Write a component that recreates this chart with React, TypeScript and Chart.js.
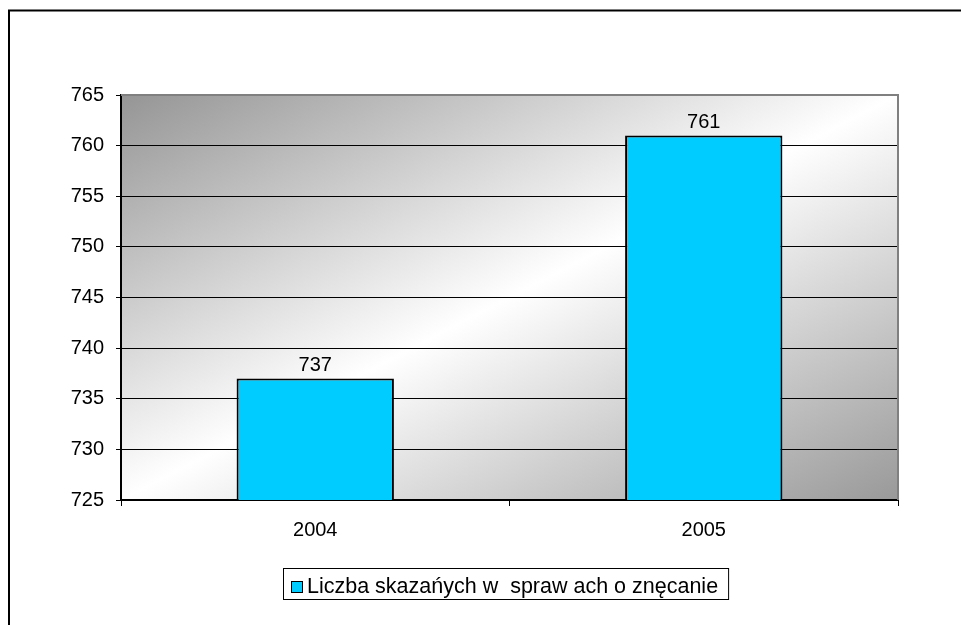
import React, { useEffect, useRef } from "react";
import { Chart, registerables } from "chart.js";

Chart.register(...registerables);

const categories = ["2004", "2005"];
const values = [737, 761];
const seriesLabel = "Liczba skazańych w  spraw ach o znęcanie";
const yMin = 725;
const yMax = 765;
const yStep = 5;

const FONT = "Arial, 'Liberation Sans', sans-serif";
const BAR_COLOR = "#00CCFF";

export default function App() {
  const ref = useRef<HTMLCanvasElement>(null);

  useEffect(() => {
    const canvas = ref.current!;

    const decor = {
      id: "decor",
      beforeDraw(chart: any) {
        const { ctx, chartArea: a } = chart;
        ctx.save();
        ctx.fillStyle = "#ffffff";
        ctx.fillRect(0, 0, chart.width, chart.height);
        ctx.strokeStyle = "#000";
        ctx.lineWidth = 2;
        ctx.strokeRect(9, 10.5, chart.width + 40, chart.height + 40);
        ctx.translate(a.left, a.top);
        ctx.scale(a.right - a.left, a.bottom - a.top);
        const g = ctx.createLinearGradient(0, 0, 1, 1);
        g.addColorStop(0, "#959595");
        g.addColorStop(0.5, "#ffffff");
        g.addColorStop(1, "#999999");
        ctx.fillStyle = g;
        ctx.fillRect(0, 0, 1, 1);
        ctx.restore();
      },
      beforeDatasetsDraw(chart: any) {
        const { ctx, chartArea: a } = chart;
        ctx.save();
        ctx.strokeStyle = "#808080";
        ctx.lineWidth = 2;
        ctx.beginPath();
        ctx.moveTo(a.left, a.top);
        ctx.lineTo(a.right, a.top);
        ctx.lineTo(a.right, a.bottom);
        ctx.stroke();
        ctx.restore();
      },
      afterDatasetsDraw(chart: any) {
        const { ctx } = chart;
        const meta = chart.getDatasetMeta(0);
        ctx.save();
        ctx.fillStyle = "#000";
        ctx.font = `20px ${FONT}`;
        ctx.textAlign = "center";
        ctx.textBaseline = "alphabetic";
        meta.data.forEach((el: any, i: number) => {
          ctx.fillText(String(values[i]), el.x, el.y - 8);
        });
        ctx.restore();
      },
      afterDraw(chart: any) {
        const { ctx } = chart;
        ctx.save();
        ctx.font = `21.5px ${FONT}`;
        const tw = ctx.measureText(seriesLabel).width;
        const left = 283;
        const top = 568;
        const h = 31;
        const w = 24 + tw + 10;
        ctx.fillStyle = "#ffffff";
        ctx.fillRect(left, top, w, h);
        ctx.strokeStyle = "#000";
        ctx.lineWidth = 1;
        ctx.strokeRect(left + 0.5, top + 0.5, w, h);
        ctx.fillStyle = BAR_COLOR;
        ctx.fillRect(291, 581, 12, 12);
        ctx.strokeRect(291.5, 581.5, 11, 11);
        ctx.fillStyle = "#000";
        ctx.textAlign = "left";
        ctx.textBaseline = "alphabetic";
        ctx.fillText(seriesLabel, 307, 593);
        ctx.restore();
      },
    };

    const chart = new Chart(canvas, {
      type: "bar",
      data: {
        labels: categories,
        datasets: [
          {
            label: seriesLabel,
            data: values,
            backgroundColor: BAR_COLOR,
            borderColor: "#000",
            borderWidth: 2,
            barPercentage: 0.405,
            categoryPercentage: 1,
          },
        ],
      },
      options: {
        responsive: false,
        animation: false,
        devicePixelRatio: 1,
        layout: { padding: { top: 95, right: 63, left: 0, bottom: 0 } },
        plugins: {
          legend: { display: false },
          tooltip: { enabled: false },
        },
        scales: {
          x: {
            offset: true,
            grid: {
              offset: true,
              drawOnChartArea: false,
              drawTicks: true,
              tickLength: 6,
              color: "#000",
              lineWidth: 1,
            },
            border: { color: "#000", width: 2 },
            ticks: {
              color: "#000",
              font: { family: FONT, size: 20 },
              padding: 12,
              maxRotation: 0,
            },
            afterFit(scale: any) {
              scale.height = 125;
            },
          },
          y: {
            min: yMin,
            max: yMax,
            grid: {
              color: "#000",
              lineWidth: 1,
              tickLength: 5,
            },
            border: { color: "#000", width: 2 },
            ticks: {
              stepSize: yStep,
              color: "#000",
              font: { family: FONT, size: 20 },
              padding: 12,
              callback: (v: any) => String(v),
            },
            afterFit(scale: any) {
              scale.width = 121;
            },
          },
        },
      },
      plugins: [decor],
    });

    return () => chart.destroy();
  }, []);

  return (
    <div style={{ position: "absolute", left: 0, top: 0, width: 961, height: 625 }}>
      <canvas ref={ref} width={961} height={625} style={{ display: "block", width: 961, height: 625 }} />
    </div>
  );
}
